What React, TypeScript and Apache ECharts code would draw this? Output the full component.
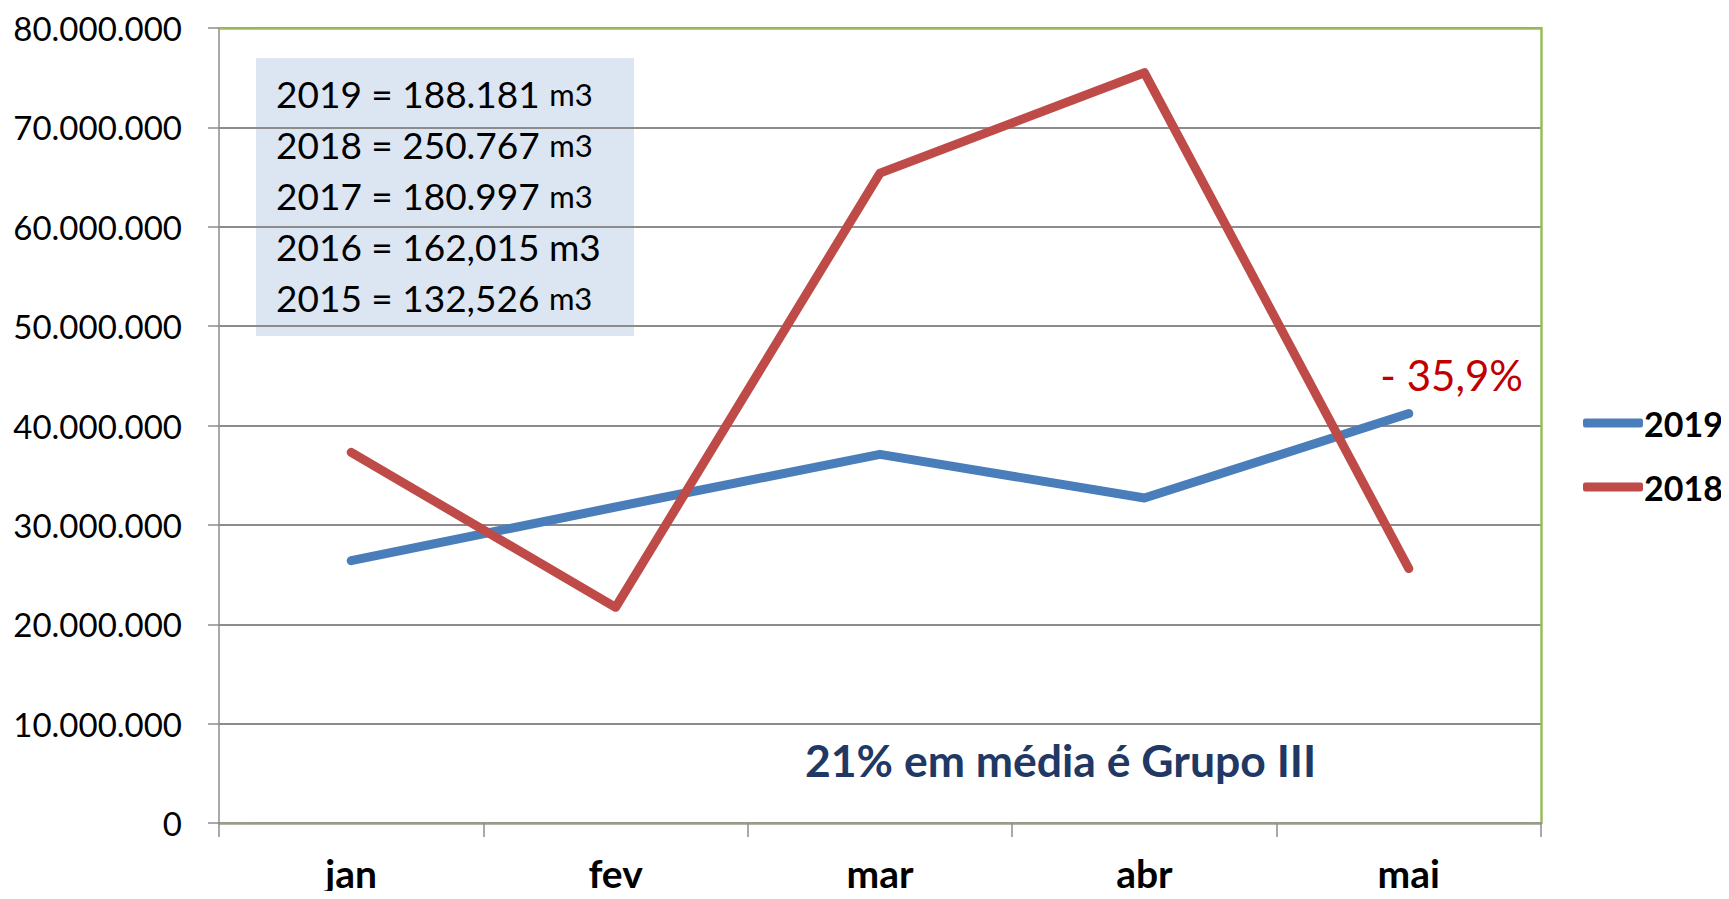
import React, { useEffect, useRef } from "react";
import * as echarts from "echarts";

const months = ["jan", "fev", "mar", "abr", "mai"];
const values2019 = [26400000, 31800000, 37100000, 32700000, 41200000];
const values2018 = [37300000, 21700000, 65400000, 75500000, 25600000];
const yTicks = { min: 0, max: 80000000, interval: 10000000 };
const boxLines = [
  { main: "2019 = 188.181 ", unit: "m3", big: false },
  { main: "2018 = 250.767 ", unit: "m3", big: false },
  { main: "2017 = 180.997 ", unit: "m3", big: false },
  { main: "2016 = 162,015 ", unit: "m3", big: true },
  { main: "2015 = 132,526 ", unit: "m3", big: false },
];
const changeLabel = "- 35,9%";
const noteLabel = "21% em média é Grupo III";

const FONT = "Lato, 'Open Sans', sans-serif";

function fmt(v: number): string {
  return String(Math.round(v)).replace(/\B(?=(\d{3})+(?!\d))/g, ".");
}

export default function App() {
  const ref = useRef<HTMLDivElement>(null);
  useEffect(() => {
    if (!ref.current) return;
    const chart = echarts.init(ref.current, null, { renderer: "svg" });
    const boxText = boxLines
      .map((l) => `{a|${l.main}}{${l.big ? "c" : "b"}|${l.unit}}`)
      .join("\n");
    chart.setOption({
      animation: false,
      textStyle: { fontFamily: FONT },
      grid: { left: 219, right: 188, top: 28, bottom: 76, containLabel: false },
      legend: {
        orient: "vertical",
        left: 1578,
        top: 398,
        itemWidth: 60,
        itemHeight: 9,
        itemGap: 24,
        icon: "roundRect",
        textStyle: {
          fontFamily: FONT,
          fontWeight: "bold",
          fontSize: 34,
          color: "#000",
          lineHeight: 40,
          padding: [0, 0, 0, -4],
        },
        data: ["2019", "2018"],
      },
      xAxis: [
        {
          type: "category",
          data: months,
          boundaryGap: true,
          position: "bottom",
          axisLine: { show: true, onZero: false, lineStyle: { color: "#9a9e8a", width: 2.5 } },
          axisTick: { show: true, length: 14, lineStyle: { color: "#8c8c8c", width: 1.5 } },
          axisLabel: {
            fontFamily: FONT,
            fontWeight: "bold",
            fontSize: 39,
            color: "#000",
            margin: 30,
          },
        },
        {
          type: "category",
          data: months,
          position: "top",
          axisLine: { show: true, onZero: false, lineStyle: { color: "#9BBB59", width: 2.5 } },
          axisTick: { show: false },
          axisLabel: { show: false },
        },
      ],
      yAxis: [
        {
          type: "value",
          min: yTicks.min,
          max: yTicks.max,
          interval: yTicks.interval,
          position: "left",
          axisLine: { show: true, onZero: false, lineStyle: { color: "#8c8c8c", width: 1.5 } },
          axisTick: { show: true, length: 11, lineStyle: { color: "#8c8c8c", width: 1.5 } },
          splitLine: { show: true, lineStyle: { color: "#8c8c8c", width: 2 } },
          axisLabel: {
            fontFamily: FONT,
            fontSize: 33,
            color: "#000",
            margin: 37,
            formatter: (v: number) => fmt(v),
          },
        },
        {
          type: "value",
          position: "right",
          min: yTicks.min,
          max: yTicks.max,
          interval: yTicks.interval,
          axisLine: { show: true, onZero: false, lineStyle: { color: "#9BBB59", width: 2.5 } },
          axisTick: { show: false },
          splitLine: { show: false },
          axisLabel: { show: false },
        },
      ],
      graphic: [
        {
          type: "group",
          left: 256,
          top: 58,
          z: 100,
          children: [
            {
              type: "rect",
              shape: { x: 0, y: 0, width: 378, height: 278 },
              style: { fill: "#DCE6F2" },
            },
            {
              type: "text",
              x: 20,
              y: 10,
              style: {
                text: boxText,
                fill: "#000",
                rich: {
                  a: { fontFamily: FONT, fontSize: 37, lineHeight: 51, fill: "#000" },
                  b: { fontFamily: FONT, fontSize: 31, lineHeight: 51, fill: "#000" },
                  c: { fontFamily: FONT, fontSize: 37, lineHeight: 51, fill: "#000" },
                },
              },
            },
          ],
        },
        {
          type: "text",
          right: 1729 - 1523,
          top: 354,
          z: 100,
          style: {
            text: changeLabel,
            fontFamily: FONT,
            fontSize: 42,
            fill: "#C00000",
          },
        },
        {
          type: "text",
          left: 805,
          top: 737,
          z: 100,
          style: {
            text: noteLabel,
            fontFamily: FONT,
            fontWeight: "bold",
            fontSize: 44.5,
            fill: "#1F3864",
          },
        },
      ],
      series: [
        {
          name: "2019",
          type: "line",
          data: values2019,
          symbol: "none",
          color: "#4A7EBB",
          lineStyle: { color: "#4A7EBB", width: 9, cap: "round", join: "round" },
          z: 3,
        },
        {
          name: "2018",
          type: "line",
          data: values2018,
          symbol: "none",
          color: "#BE4B48",
          lineStyle: { color: "#BE4B48", width: 9, cap: "round", join: "round" },
          z: 4,
        },
      ],
    });
    return () => chart.dispose();
  }, []);
  return <div ref={ref} style={{ width: 1729, height: 899, margin: -8 }} />;
}
